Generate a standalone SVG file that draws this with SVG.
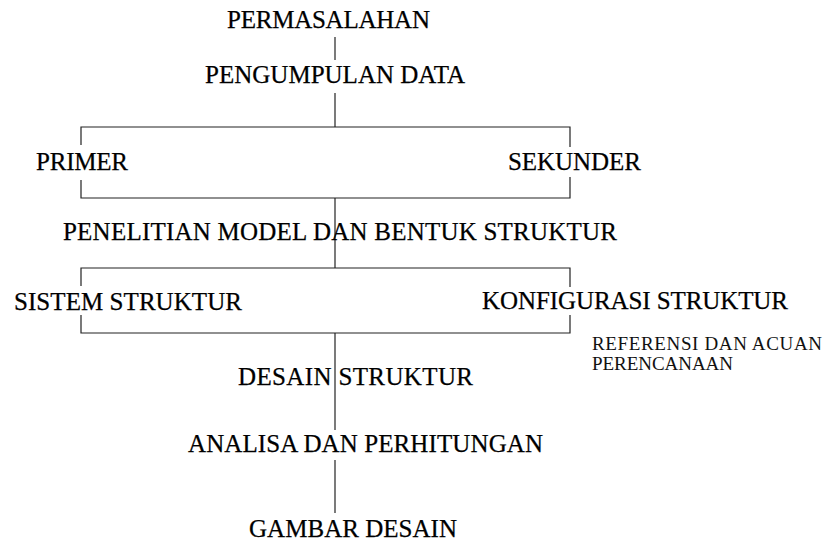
<svg xmlns="http://www.w3.org/2000/svg" width="828" height="542" viewBox="0 0 828 542">
<style>
.t{font-family:"Liberation Serif","Times New Roman",serif;font-size:25px;fill:#000;stroke:#000;stroke-width:0.25}
.s{font-family:"Liberation Serif","Times New Roman",serif;font-size:19px;fill:#111}
.c{stroke:#222;stroke-width:1.2;fill:none}
</style>
<rect width="828" height="542" fill="#fff"/>
<g id="connectors">
<line class="c" x1="335" y1="37" x2="335" y2="60"/>
<line class="c" x1="335" y1="93" x2="335" y2="127"/>
<polyline class="c" points="81,145 81,127 570,127 570,147"/>
<polyline class="c" points="81,180 81,198 570,198 570,177"/>
<line class="c" x1="335" y1="198" x2="335" y2="268"/>
<polyline class="c" points="81,286 81,268 570,268 570,287"/>
<polyline class="c" points="81,315 81,333 570,333 570,315"/>
<line class="c" x1="335" y1="333" x2="335" y2="430"/>
<line class="c" x1="335" y1="460" x2="335" y2="513"/>
</g>
<g id="permasalahan"><text class="t" x="227" y="28" textLength="203" lengthAdjust="spacing">PERMASALAHAN</text></g>
<g id="pengumpulan"><text class="t" x="205" y="83" textLength="260" lengthAdjust="spacing">PENGUMPULAN DATA</text></g>
<g id="primer"><text class="t" x="36" y="170" textLength="92" lengthAdjust="spacing">PRIMER</text></g>
<g id="sekunder"><text class="t" x="508" y="170" textLength="133" lengthAdjust="spacing">SEKUNDER</text></g>
<g id="penelitian"><text class="t" x="63" y="240" textLength="554" lengthAdjust="spacing">PENELITIAN MODEL DAN BENTUK STRUKTUR</text></g>
<g id="sistem"><text class="t" x="14" y="310" textLength="228" lengthAdjust="spacing">SISTEM STRUKTUR</text></g>
<g id="konfigurasi"><text class="t" x="482" y="309" textLength="306" lengthAdjust="spacing">KONFIGURASI STRUKTUR</text></g>
<g id="referensi"><text class="s" x="592" y="350" textLength="230" lengthAdjust="spacing">REFERENSI DAN ACUAN</text><text class="s" x="592" y="370" textLength="141" lengthAdjust="spacing">PERENCANAAN</text></g>
<g id="desain"><text class="t" x="238" y="385" textLength="235" lengthAdjust="spacing">DESAIN STRUKTUR</text></g>
<g id="analisa"><text class="t" x="188" y="452" textLength="355" lengthAdjust="spacing">ANALISA DAN PERHITUNGAN</text></g>
<g id="gambar"><text class="t" x="249" y="537" textLength="208" lengthAdjust="spacing">GAMBAR DESAIN</text></g>
</svg>
